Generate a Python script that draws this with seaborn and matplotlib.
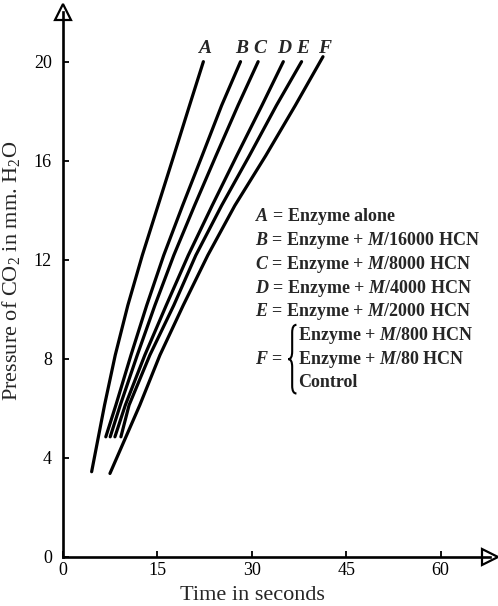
import matplotlib
matplotlib.use("Agg")
import matplotlib.pyplot as plt
import seaborn as sns
import pandas as pd
from matplotlib.path import Path
from matplotlib.patches import PathPatch

# values (time in s, pressure in mm H2O)
curves = ["A", "B", "C", "D", "E", "F"]
y_mid = [6.13, 8.15, 10.16, 12.18, 14.19, 16.2, 18.23]
y_a = [3.44] + y_mid + [20.0]
y_bcde = [4.85] + y_mid + [20.0]
y_f = [3.37] + y_mid + [20.2]

time_a = [4.55, 6.6, 8.3, 10.3, 12.6, 15.1, 17.6, 20.1, 22.3]
time_b = [6.8, 8.4, 10.8, 13.3, 16.0, 19.0, 22.1, 25.2, 28.2]
time_c = [7.5, 9.1, 11.8, 14.6, 17.6, 20.9, 24.3, 27.8, 31.0]
time_d = [8.25, 9.9, 13.0, 16.4, 19.9, 23.7, 27.6, 31.6, 35.0]
time_e = [9.2, 10.5, 13.8, 17.6, 21.1, 25.2, 29.6, 33.9, 37.9]
time_f = [7.46, 12.2, 15.4, 19.1, 23.0, 27.3, 32.2, 36.9, 41.3]

x_ticks = [0, 15, 30, 45, 60]
y_ticks = [0, 4, 8, 12, 16, 20]

legend_rows = [
    ("A", "Enzyme alone"),
    ("B", "Enzyme + $\\mathit{M}$/16000 HCN"),
    ("C", "Enzyme + $\\mathit{M}$/8000 HCN"),
    ("D", "Enzyme + $\\mathit{M}$/4000 HCN"),
    ("E", "Enzyme + $\\mathit{M}$/2000 HCN"),
]
f_rows = ["Enzyme + $\\mathit{M}$/800 HCN",
          "Enzyme + $\\mathit{M}$/80 HCN",
          "Control"]


def build_frame():
    """
    Builds one long DataFrame from the named lists.
    """
    times = [time_a, time_b, time_c, time_d, time_e, time_f]
    ys_all = [y_a, y_bcde, y_bcde, y_bcde, y_bcde, y_f]
    rows = []
    for name, t, ys in zip(curves, times, ys_all):
        for x, y in zip(t, ys):
            rows.append({"curve": name, "time": x, "pressure": y})
    return pd.DataFrame(rows)


def draw_brace(ax, x_tip, x_mid, x_end, top, bottom):
    """
    Draws a left curly brace in axes coordinates.
    """
    c = (top + bottom) / 2
    r = 0.014
    verts = [(x_end, top), (x_mid, top), (x_mid, top - r),
             (x_mid, c + r), (x_mid, c), (x_tip, c),
             (x_mid, c), (x_mid, c - r),
             (x_mid, bottom + r), (x_mid, bottom), (x_end, bottom)]
    codes = [Path.MOVETO, Path.CURVE3, Path.CURVE3,
             Path.LINETO, Path.CURVE3, Path.CURVE3,
             Path.CURVE3, Path.CURVE3,
             Path.LINETO, Path.CURVE3, Path.CURVE3]
    patch = PathPatch(Path(verts, codes), transform=ax.transAxes,
                      facecolor="none", edgecolor="black", lw=1.5,
                      clip_on=False)
    ax.add_patch(patch)


sns.set_style("ticks")
plt.rcParams["font.family"] = ["Liberation Serif", "DejaVu Serif"]
plt.rcParams["mathtext.fontset"] = "custom"
plt.rcParams["mathtext.rm"] = "Liberation Serif"
plt.rcParams["mathtext.it"] = "Liberation Serif:italic:bold"
plt.rcParams["mathtext.bf"] = "Liberation Serif:bold"

df = build_frame()

fig = plt.figure(figsize=(4.98, 6.06), dpi=100)
ax = fig.add_axes([0.1265, 0.081, 0.857, 0.899])

sns.lineplot(data=df, x="time", y="pressure", units="curve", estimator=None,
             sort=False, color="black", linewidth=2.3, ax=ax)
for line in ax.get_lines():
    line.set_solid_capstyle("round")
    line.set_solid_joinstyle("round")

ax.set_xlim(0, 67.8)
ax.set_ylim(0, 22)
ax.set_xticks(x_ticks)
ax.set_yticks(y_ticks)
ax.tick_params(direction="in", length=4, width=1.3, labelsize=13,
               colors="black")
ax.tick_params(axis="y", pad=8)
ax.tick_params(axis="x", pad=4)
for side in ["top", "right"]:
    ax.spines[side].set_visible(False)
for side in ["left", "bottom"]:
    ax.spines[side].set_linewidth(1.9)
    ax.spines[side].set_color("black")

# open arrow heads at the axis ends
ax.plot(1, 0, marker=">", ms=11, mfc="white", mec="black", mew=1.6,
        transform=ax.transAxes, clip_on=False)
ax.plot(0, 1, marker="^", ms=11, mfc="white", mec="black", mew=1.6,
        transform=ax.transAxes, clip_on=False)

ax.set_xlabel("Time in seconds", fontsize=16)
ax.xaxis.set_label_coords(0.445, -0.054)
ax.set_ylabel("Pressure of CO$_2$ in mm. H$_2$O", fontsize=16)
ax.yaxis.set_label_coords(-0.097, 0.525)

# curve letters above the tops
tops = [time_a[-1], time_b[-1], time_c[-1], time_d[-1], time_e[-1], time_f[-1]]
for name, x in zip(curves, tops):
    ax.text(x + 0.2, 20.55, name, fontsize=14, style="italic",
            fontweight="bold", ha="center", va="center")

# key
y0 = 0.624
dy = 0.0435
fs = 13
for i, (name, desc) in enumerate(legend_rows):
    ax.text(0.451, y0 - i * dy, f"$\\mathit{{{name}}}$ = {desc}",
            transform=ax.transAxes, fontsize=fs, fontweight="bold",
            va="center", ha="left")
fy = y0 - 6 * dy
ax.text(0.451, fy, "$\\mathit{F}$ =", transform=ax.transAxes, fontsize=fs,
        fontweight="bold", va="center", ha="left")
draw_brace(ax, 0.528, 0.537, 0.547, fy + 1.45 * dy, fy - 1.45 * dy)
for j, desc in enumerate(f_rows):
    ax.text(0.551, fy + (1 - j) * dy, desc, transform=ax.transAxes,
            fontsize=fs, fontweight="bold", va="center", ha="left")

fig.savefig("out.png", dpi=100)
